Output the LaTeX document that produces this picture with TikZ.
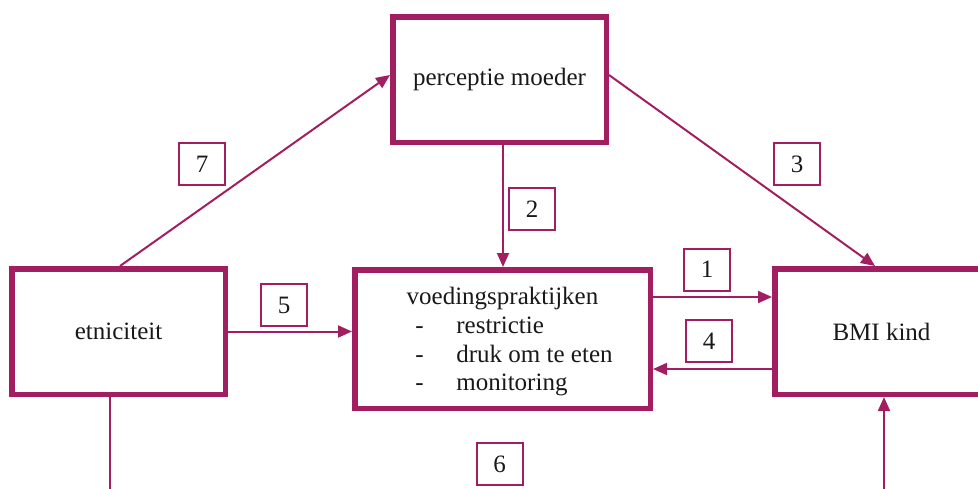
\documentclass[tikz,border=0pt]{standalone}
\usepackage{fontspec}
\setmainfont{Liberation Serif}
\usetikzlibrary{arrows.meta,calc}
\definecolor{plum}{RGB}{161,31,96}
\begin{document}
\begin{tikzpicture}[x=1pt,y=-1pt,
  every node/.style={font=\fontsize{25}{28.7}\selectfont, text=black!90},
  mainbox/.style={draw=plum, line width=5.5pt, fill=white, inner sep=0pt,
    minimum width=213.5pt, minimum height=125.5pt},
  numbox/.style={draw=plum, line width=2pt, inner sep=0pt,
    minimum width=46pt, minimum height=42pt},
  link/.style={draw=plum, line width=2pt},
  arrowlink/.style={link, -{Triangle[length=14pt,width=12pt]}}
]
\useasboundingbox (0,0) rectangle (978,488);

% main variables
\node[mainbox] (perc) at (499.5,79.5) {perceptie moeder};
\node[mainbox] (etn)  at (118.5,331.5) {etniciteit};
\node[mainbox, minimum width=295.5pt, minimum height=138.5pt] (voed) at (502.5,339) {};
\node[mainbox] (bmi)  at (881.5,331.5) {BMI kind};

% list of feeding practices
\node[inner sep=0pt, align=left] (voedtxt) at ($(voed.center)+(0,3)$) {%
  \begin{tabular}{@{}l@{}}
    \multicolumn{1}{@{}c@{}}{voedingspraktijken}\\
    \makebox[64pt][l]{\hspace{23pt}-}restrictie\\
    \makebox[64pt][l]{\hspace{23pt}-}druk om te eten\\
    \makebox[64pt][l]{\hspace{23pt}-}monitoring
  \end{tabular}};

% free ends of the paths leaving the picture at the bottom
\coordinate (etnout) at (110,492);
\coordinate (bmiin)  at (884,492);

% connectors
\draw[arrowlink] ([xshift=1.5pt]etn.north) -- ([yshift=4.5pt]perc.west);
\draw[arrowlink] ([yshift=4.5pt]perc.east) -- ([xshift=-6.5pt]bmi.north);
\draw[arrowlink] ([xshift=3.5pt]perc.south) -- ([xshift=0.5pt]voed.north);
\draw[arrowlink] (etn.east) -- (etn.east -| voed.west);
\draw[arrowlink] ([yshift=42pt]voed.east) -- ([yshift=42pt]voed.east -| bmi.west);
\draw[arrowlink] ([yshift=-37.5pt]bmi.west) -- ([yshift=-37.5pt]bmi.west -| voed.east);
\draw[link] ([xshift=-8.5pt]etn.south) -- (etnout);
\draw[arrowlink] (bmiin) -- (bmiin |- bmi.south);

% path numbers
\node[numbox] (n1) at (707,269.5) {1};
\node[numbox] (n2) at (532,209) {2};
\node[numbox] (n3) at (797,164) {3};
\node[numbox] (n4) at (709,341) {4};
\node[numbox] (n5) at (284,305) {5};
\node[numbox] (n6) at (499.5,464) {6};
\node[numbox] (n7) at (202,164) {7};
\end{tikzpicture}
\end{document}
